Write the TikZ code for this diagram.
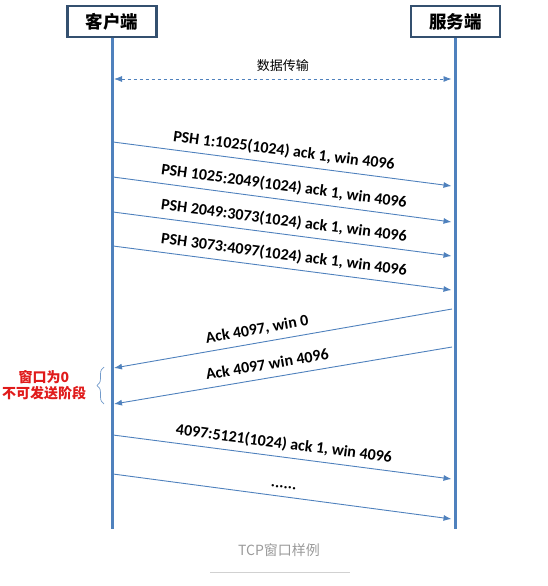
\documentclass[tikz,border=0pt]{standalone}
\usepackage{fontspec}
\setmainfont{Carlito}
\newfontfamily\cjk{Noto Sans CJK SC}
\usetikzlibrary{arrows.meta, positioning, decorations.pathreplacing}
\definecolor{lifeblue}{HTML}{4F81BD}
\definecolor{boxedge}{HTML}{34506F}
\definecolor{pausered}{HTML}{E01B1B}
\definecolor{capgray}{HTML}{9A9A9A}
\tikzstyle{party} = [draw=boxedge, line width=2.5pt, fill=white, minimum width=89pt, minimum height=31pt, font=\cjk\bfseries\fontsize{17.5}{20}\selectfont]
\tikzstyle{life} = [draw=lifeblue, line width=3pt]
\tikzstyle{msg} = [draw=lifeblue, line width=0.9pt, -{Latex[length=8pt,width=6pt]}]
\tikzstyle{lbl} = [sloped, above=3pt, inner sep=2pt, text height=10.5pt, text depth=3pt, font=\bfseries\fontsize{16}{18}\selectfont]

\begin{document}
\begin{tikzpicture}[x=1pt, y=-1pt]
	\useasboundingbox (0,0) rectangle (548,586);
	\node [party] (client) at (112,21.5) {客户端};
	\node [party, right=252pt of client] (server) {服务端};
	\coordinate (cbot) at (client |- 0,529);
	\coordinate (sbot) at (server |- 0,529);
	\draw [life] (client.south) -- (cbot);
	\draw [life] (server.south) -- (sbot);
	
	% data transfer
	\coordinate (d1) at (114,79);
	\coordinate (d2) at (451.5,79);
	\draw [msg, dashed, {Latex[length=8pt,width=6pt]}-{Latex[length=8pt,width=6pt]}, line width=0.8pt] (d1) -- node [above=4pt, font=\cjk\fontsize{13}{15}\selectfont] (trans) {数据传输} (d2);
	
	% PSH segments
	\coordinate (c1) at (113,142);
	\coordinate (s1) at (451.5,186);
	\coordinate (c2) at (113,177);
	\coordinate (s2) at (451.5,222);
	\coordinate (c3) at (113,212);
	\coordinate (s3) at (451.5,256);
	\coordinate (c4) at (113,246);
	\coordinate (s4) at (451.5,290);
	\path [msg] (c1) -- node [lbl] (t1) {PSH 1:1025(1024) ack 1, win 4096} (s1);
	\path [msg] (c2) -- node [lbl] (t2) {PSH 1025:2049(1024) ack 1, win 4096} (s2);
	\path [msg] (c3) -- node [lbl] (t3) {PSH 2049:3073(1024) ack 1, win 4096} (s3);
	\path [msg] (c4) -- node [lbl] (t4) {PSH 3073:4097(1024) ack 1, win 4096} (s4);
	
	% acks
	\coordinate (s5) at (452,309);
	\coordinate (c5) at (114,368);
	\coordinate (s6) at (452,347);
	\coordinate (c6) at (114,404);
	\path [msg] (s5) -- node [lbl, pos=0.57] (t5) {Ack 4097, win 0} (c5);
	\path [msg] (s6) -- node [lbl, pos=0.54] (t6) {Ack 4097 win 4096} (c6);
	
	% zero window
	\coordinate (b1) at (104,404);
	\coordinate (b2) at (104,367);
	\draw [draw=lifeblue!80, line width=0.7pt, decorate, decoration={brace, amplitude=7pt}] (b1) -- (b2);
	\node [text=pausered, align=center, font=\cjk\bfseries\fontsize{14}{15.5}\selectfont] (pause) at (44,385) {窗口为0\\不可发送阶段};
	
	% resume
	\coordinate (c7) at (113,435);
	\coordinate (s7) at (451.5,479);
	\coordinate (c8) at (113,474);
	\coordinate (s8) at (451.5,519);
	\path [msg] (c7) -- node [lbl] (t7) {4097:5121(1024) ack 1, win 4096} (s7);
	\path [msg] (c8) -- node [lbl] (t8) {......} (s8);
	
	% caption
	\node [text=capgray, font=\cjk\fontsize{14}{16}\selectfont] (cap) at (279,550) {TCP窗口样例};
	\coordinate (u1) at (210,572);
	\coordinate (u2) at (350,572);
	\draw [draw=black!18, line width=1pt] (u1) -- (u2);
\end{tikzpicture}
\end{document}
